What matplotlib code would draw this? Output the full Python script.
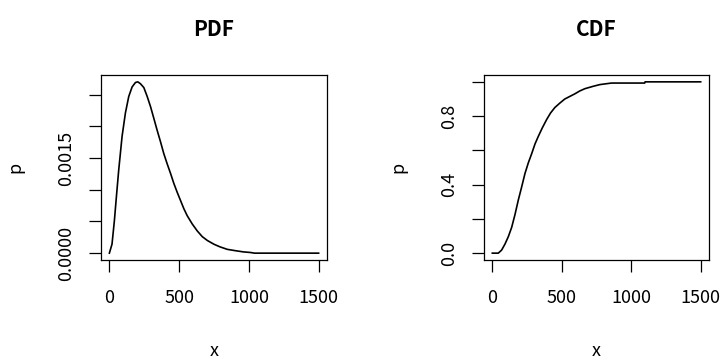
import matplotlib
matplotlib.use('Agg')
import matplotlib.pyplot as plt

plt.rcParams['font.family'] = ['Noto Sans CJK JP', 'DejaVu Sans']

# values
pdf_x = [0, 19, 36, 50, 67, 91, 115, 139, 163, 187, 204, 223, 247, 271, 295,
         318, 342, 366, 390, 414, 438, 462, 486, 510, 534, 558, 594, 630,
         666, 702, 750, 792, 845, 900, 960, 1013, 1040, 1500]
pdf_p = [0.0, 0.000143, 0.000513, 0.00088, 0.00131, 0.00184, 0.00221,
         0.00247, 0.00262, 0.00269, 0.0027, 0.00267, 0.00261, 0.00247,
         0.00231, 0.00213, 0.00194, 0.00176, 0.00157, 0.00141, 0.00126,
         0.0011, 0.00096, 0.00083, 0.0007, 0.00059, 0.00046, 0.00035,
         0.00026, 0.0002, 0.00014, 0.0001, 0.00006, 0.00004, 0.00002,
         0.00001, 0.0, 0.0]

cdf_x = [0, 43, 67, 91, 115, 139, 163, 187, 211, 235, 259, 283, 307, 330,
         359, 391, 419, 450, 486, 522, 558, 594, 630, 666, 726, 774, 858,
         1097, 1100, 1500]
cdf_p = [0.0, 0.0, 0.018, 0.053, 0.096, 0.15, 0.225, 0.31, 0.386, 0.465,
         0.527, 0.58, 0.637, 0.68, 0.73, 0.78, 0.818, 0.85, 0.876, 0.90,
         0.915, 0.93, 0.947, 0.96, 0.974, 0.984, 0.993, 0.993, 1.0, 1.0]

x_ticks = [0, 500, 1000, 1500]
pdf_ticks = [0.0, 0.0005, 0.0010, 0.0015, 0.0020, 0.0025]
pdf_labels = ['0.0000', '', '', '0.0015', '', '']
cdf_ticks = [0.0, 0.2, 0.4, 0.6, 0.8, 1.0]
cdf_labels = ['0.0', '', '0.4', '', '0.8', '']

fig = plt.figure(figsize=(7.25, 3.61), dpi=100)
W, H = 725, 361
ax1 = fig.add_axes([101 / W, 1 - 260 / H, 226 / W, 185 / H])
ax2 = fig.add_axes([484 / W, 1 - 260 / H, 225 / W, 185 / H])


def style(ax, x, y, yt, yl, title):
    ax.plot(x, y, color='black', linewidth=1.2)
    pad = 0.04 * 1500
    ax.set_xlim(-pad, 1500 + pad)
    ymax = max(y)
    ax.set_ylim(-0.04 * ymax, ymax * 1.04)
    ax.set_xticks(x_ticks)
    ax.set_xticklabels([str(t) for t in x_ticks])
    ax.set_yticks(yt)
    ax.set_yticklabels(yl, rotation=90, va='center')
    ax.tick_params(direction='out', length=8.5, width=0.9, labelsize=13)
    ax.tick_params(axis='x', pad=12.5)
    ax.tick_params(axis='y', pad=10)
    for s in ax.spines.values():
        s.set_linewidth(0.9)
    ax.set_title(title, fontsize=15, fontweight='bold', pad=28)
    ax.set_xlabel('x', fontsize=13, labelpad=25)
    ax.set_ylabel('p', fontsize=13, labelpad=24)


style(ax1, pdf_x, pdf_p, pdf_ticks, pdf_labels, 'PDF')
style(ax2, cdf_x, cdf_p, cdf_ticks, cdf_labels, 'CDF')

fig.savefig('out.png', dpi=100)
